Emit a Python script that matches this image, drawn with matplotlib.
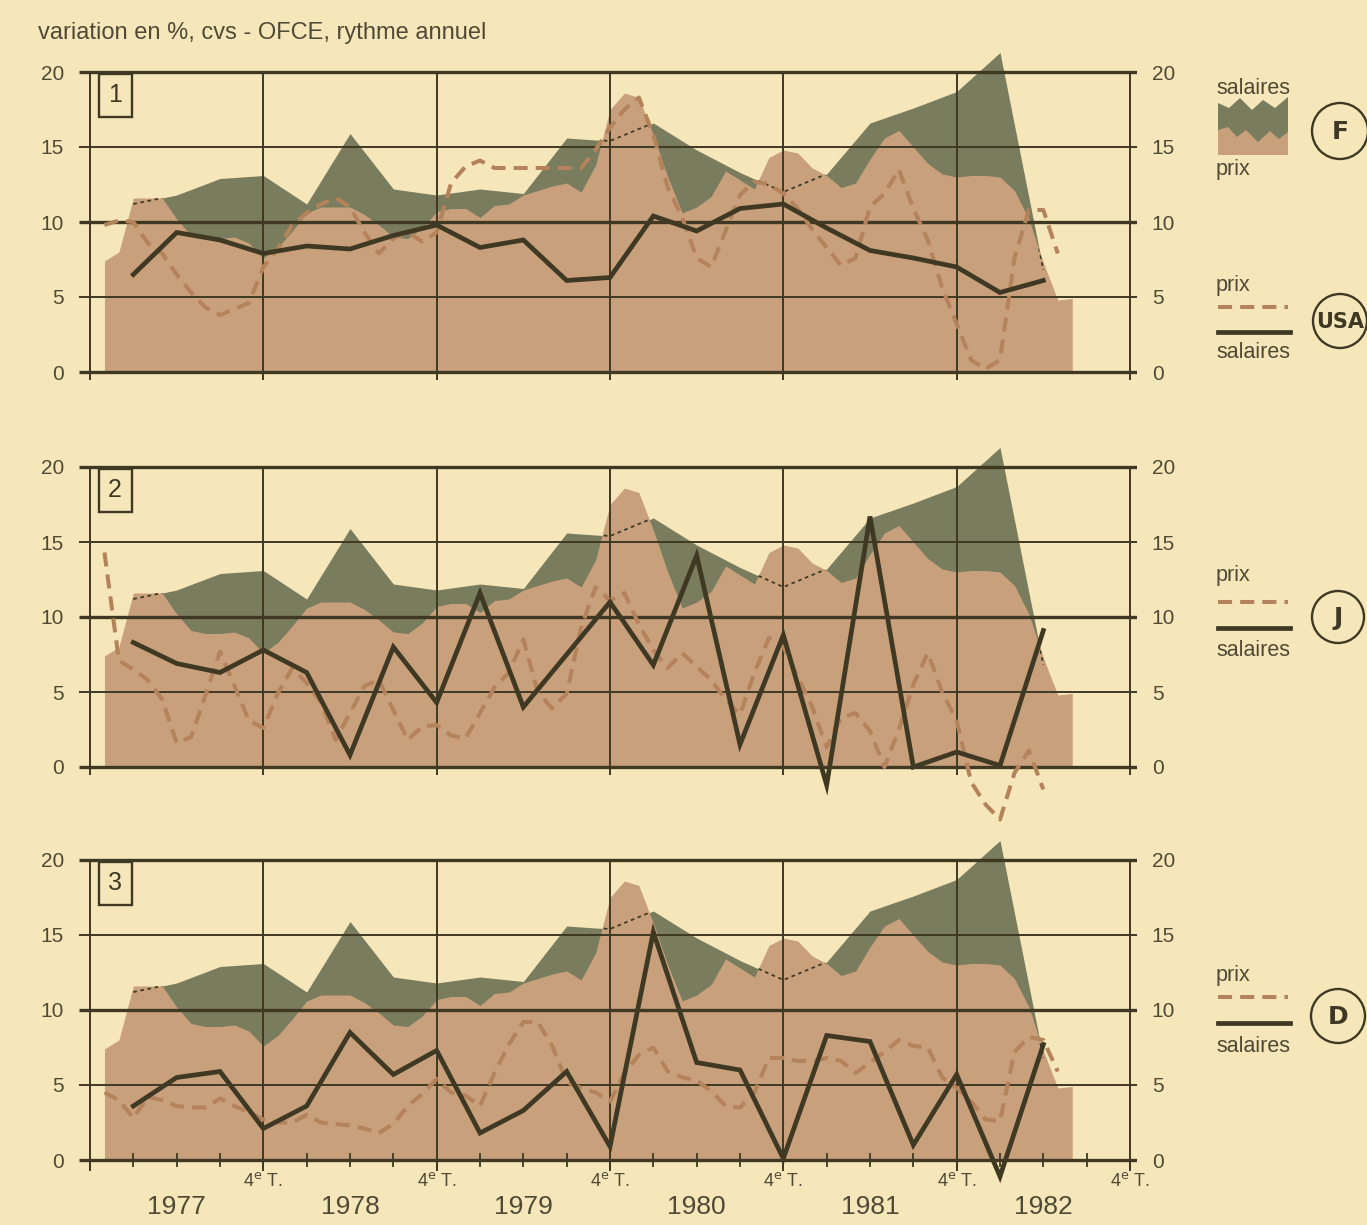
import numpy as np
import matplotlib.pyplot as plt
from matplotlib.patches import Circle, Polygon

# ---- données (variation en %, rythme annuel) ----
# France : prix mensuels, salaires trimestriels (fond commun aux trois graphiques)
fr_mois = np.arange(1, 69)
fr_prix = [7.4, 8.0, 11.6, 11.6, 11.6, 10.2, 9.1, 8.9, 8.9, 9.0, 8.6, 7.6,
           8.3, 9.4, 10.6, 11.0, 11.0, 11.0, 10.5, 9.8, 9.0, 8.9, 9.6, 10.7,
           10.9, 10.9, 10.3, 11.1, 11.2, 11.8, 12.1, 12.4, 12.6, 12.0, 13.8, 17.5,
           18.6, 18.3, 15.8, 13.0, 10.6, 11.0, 11.7, 13.4, 12.8, 12.2, 14.3, 14.8,
           14.6, 13.6, 13.1, 12.3, 12.6, 14.2, 15.6, 16.1, 15.0, 13.9, 13.2, 13.0,
           13.1, 13.1, 13.0, 12.1, 10.2, 7.3, 4.8, 4.9]
trim = np.arange(1, 23)
fr_salaires = [11.2, 11.8, 12.9, 13.1, 11.2, 15.9, 12.2, 11.8, 12.2, 11.9, 15.6,
               15.4, 16.6, 14.8, 13.3, 12.0, 13.2, 16.6, 17.6, 18.7, 21.3, 6.8]

# USA
us_mois = np.arange(1, 68)
us_prix = [9.8, 10.1, 10.0, 8.6, 7.9, 6.5, 5.3, 4.3, 3.8, 4.2, 4.6, 7.0,
           8.2, 9.8, 10.6, 11.2, 11.6, 11.0, 9.3, 7.9, 8.9, 9.3, 8.7, 9.3,
           12.6, 13.7, 14.1, 13.6, 13.6, 13.6, 13.6, 13.6, 13.6, 13.6, 14.8, 16.3,
           17.5, 18.3, 15.8, 12.3, 10.3, 7.6, 7.0, 9.4, 11.8, 12.7, 12.5, 11.9,
           10.9, 9.5, 8.3, 7.1, 7.6, 11.0, 11.9, 13.5, 10.9, 8.8, 5.6, 3.2,
           0.8, 0.2, 0.8, 7.6, 10.8, 10.8, 7.9]
us_salaires = [6.5, 9.3, 8.8, 7.9, 8.4, 8.2, 9.1, 9.8, 8.3, 8.8, 6.1,
               6.3, 10.4, 9.4, 10.9, 11.2, 9.6, 8.1, 7.6, 7.0, 5.3, 6.1]

# Japon
jp_mois = np.arange(1, 67)
jp_prix = [14.3, 7.1, 6.5, 5.8, 4.5, 1.6, 2.0, 4.8, 7.7, 5.4, 3.1, 2.6,
           4.9, 6.6, 5.6, 4.3, 1.8, 3.6, 5.4, 5.8, 3.8, 1.8, 2.7, 2.8,
           2.1, 1.9, 3.6, 5.3, 6.3, 8.5, 5.0, 3.9, 4.9, 9.3, 12.0, 11.1,
           11.6, 9.5, 7.8, 6.6, 7.6, 6.7, 5.8, 4.5, 3.5, 6.3, 8.6, 8.0,
           6.0, 4.0, 1.3, 3.3, 3.6, 2.4, 0.0, 2.5, 5.5, 7.6, 5.0, 3.1,
           -1.0, -2.5, -3.5, -0.4, 1.1, -1.5]
jp_salaires = [8.3, 6.9, 6.3, 7.8, 6.3, 0.8, 8.0, 4.3, 11.6, 4.0, 7.5,
               11.0, 6.8, 14.1, 1.5, 8.8, -1.2, 16.7, 0.0, 1.0, 0.1, 9.1]

# RFA
de_mois = np.arange(1, 68)
de_prix = [4.5, 4.0, 2.8, 4.2, 4.0, 3.6, 3.5, 3.5, 4.1, 3.6, 3.2, 2.7,
           2.5, 2.5, 3.0, 2.5, 2.4, 2.3, 2.1, 1.8, 2.4, 3.6, 4.4, 5.4,
           4.5, 4.3, 3.6, 5.8, 7.7, 9.2, 9.2, 7.6, 5.2, 4.8, 4.5, 3.9,
           5.8, 7.0, 7.5, 5.9, 5.5, 5.3, 4.6, 3.6, 3.5, 4.5, 6.8, 6.8,
           6.6, 6.6, 6.8, 6.6, 5.8, 6.5, 7.2, 8.0, 7.6, 7.5, 5.5, 4.8,
           3.9, 2.7, 2.6, 7.2, 8.2, 8.0, 5.9]
de_salaires = [3.6, 5.5, 5.9, 2.1, 3.6, 8.5, 5.7, 7.3, 1.8, 3.3, 5.9,
               0.9, 15.2, 6.5, 6.0, 0.1, 8.3, 7.9, 1.0, 5.7, -1.1, 7.7]

annees = ['1977', '1978', '1979', '1980', '1981', '1982']
graduations = [0, 5, 10, 15, 20]

# ---- couleurs ----
FOND = '#f6e7ba'
BEIGE = '#c8a07c'
VERT = '#7a7c5e'
FONCE = '#3f3923'
BRUN = '#b5835b'
TEXTE = '#4f4a35'

plt.rcParams['font.family'] = ['Liberation Sans', 'DejaVu Sans']

W, H = 1367, 1225
fig = plt.figure(figsize=(W / 100, H / 100), dpi=100, facecolor=FOND)

X0, X1 = -0.25, 24.15
Y0, Y1 = -4, 21.5


def panneau(y20, numero, prix_mois, prix, salaires, dernier=False):
    px_q = 1040 / 24
    left = 90 + X0 * px_q
    right = 90 + X1 * px_q
    top = y20 - (Y1 - 20) * 15
    bottom = y20 + (20 - Y0) * 15
    ax = fig.add_axes([left / W, 1 - bottom / H, (right - left) / W, (bottom - top) / H])
    ax.set_facecolor('none')
    ax.set_xlim(X0, X1)
    ax.set_ylim(Y0, Y1)

    # fond France
    ax.fill_between(trim, 0, fr_salaires, color=VERT, lw=0, zorder=1)
    beige = ax.fill_between(fr_mois / 3, 0, fr_prix, color=BEIGE, lw=0, zorder=1.1)
    pointille, = ax.plot(trim, fr_salaires, color=FONCE, lw=1.3,
                         ls=(0, (2, 2)), zorder=2.5)
    pointille.set_clip_path(beige.get_paths()[0], ax.transData)

    # grille (les traits verticaux dépassent un peu sous le zéro)
    for v in graduations:
        ax.hlines(v, X0, X1, color=FONCE, lw=2.4 if v % 10 == 0 else 1.4, zorder=2)
    ax.vlines(range(0, 25, 4), -0.5, 20, color=FONCE, lw=1.4, zorder=2)

    # autre pays
    ax.plot(prix_mois / 3, prix, color=BRUN, lw=2.9, ls=(0, (3.5, 2)), zorder=3)
    ax.plot(trim, salaires, color=FONCE, lw=3.4, zorder=4, solid_joinstyle='miter')

    for s in ax.spines.values():
        s.set_visible(False)
    ax.spines['bottom'].set_position(('data', 0))

    ax.set_yticks(graduations)
    ax.tick_params(axis='y', length=0, labelleft=True, labelright=True,
                   labelsize=15, labelcolor=TEXTE, pad=11)
    if dernier:
        ax.set_xticks(range(0, 25, 4))
        ax.set_xticklabels([''] + ['4$^{\\mathrm{e}}$ T.'] * 6, fontsize=13)
        ax.tick_params(axis='x', which='major', direction='out', length=8, width=1.4,
                       color=FONCE, labelcolor=TEXTE, pad=1)
        mineurs = [q for q in range(1, 24) if q % 4]
        ax.set_xticks(mineurs, minor=True)
        ax.set_xticklabels([annees[(q - 2) // 4] if q % 4 == 2 else '' for q in mineurs],
                           minor=True, fontsize=19)
        ax.tick_params(axis='x', which='minor', direction='inout', length=10,
                       width=1.3, color=FONCE, pad=20, labelcolor=TEXTE)
    else:
        ax.set_xticks([])
        ax.set_xticks([], minor=True)

    ax.text(0.58, 18.45, str(numero), ha='center', va='center', fontsize=18,
            color=FONCE, zorder=5,
            bbox=dict(boxstyle='square,pad=0.38', fc='none', ec=FONCE, lw=1.7))
    return ax


panneau(72, 1, us_mois, us_prix, us_salaires)
panneau(467, 2, jp_mois, jp_prix, jp_salaires)
panneau(860, 3, de_mois, de_prix, de_salaires, dernier=True)

# ---- textes et légendes ----
ov = fig.add_axes([0, 0, 1, 1], zorder=10)
ov.set_xlim(0, W)
ov.set_ylim(H, 0)
ov.axis('off')
ov.patch.set_alpha(0)

ov.text(38, 33, 'variation en %, cvs - OFCE, rythme annuel', va='center',
        fontsize=17, color=TEXTE)

# France
ov.text(1216, 89, 'salaires', va='center', fontsize=15.5, color=TEXTE)
ov.add_patch(Polygon([(1218, 155), (1218, 103), (1229, 108), (1240, 98), (1252, 110),
                      (1263, 100), (1275, 108), (1288, 97), (1288, 155)],
                     closed=True, fc=VERT, ec='none'))
ov.add_patch(Polygon([(1218, 155), (1218, 130), (1228, 127), (1237, 137), (1246, 130),
                      (1258, 142), (1270, 131), (1279, 139), (1288, 132), (1288, 155)],
                     closed=True, fc=BEIGE, ec='none'))
ov.text(1216, 170, 'prix', va='center', fontsize=15.5, color=TEXTE)

legendes = [('USA', 286, 307, 332, 352, 1340, 321, 27, 15),
            ('J', 576, 602, 628, 650, 1338, 617, 26, 18),
            ('D', 975, 997, 1023, 1047, 1338, 1016, 27, 18)]
for nom, yp, yd, ys, ysal, cx, cy, r, fs in legendes:
    ov.text(1216, yp, 'prix', va='center', fontsize=15.5, color=TEXTE)
    ov.plot([1218, 1288], [yd, yd], color=BRUN, lw=2.9, ls=(0, (3.5, 2)))
    ov.plot([1218, 1290], [ys, ys], color=FONCE, lw=3.4)
    ov.text(1216, ysal, 'salaires', va='center', fontsize=15.5, color=TEXTE)
    ov.add_patch(Circle((cx, cy), r, fill=False, ec=FONCE, lw=1.7))
    ov.text(cx, cy + 1, nom, ha='center', va='center', fontsize=fs,
            fontweight='bold', color=FONCE, family='DejaVu Sans')

ov.add_patch(Circle((1340, 131), 28, fill=False, ec=FONCE, lw=1.7))
ov.text(1340, 132, 'F', ha='center', va='center', fontsize=18, fontweight='bold',
        color=FONCE, family='DejaVu Sans')

fig.savefig('out.png', dpi=100, facecolor=FOND)
